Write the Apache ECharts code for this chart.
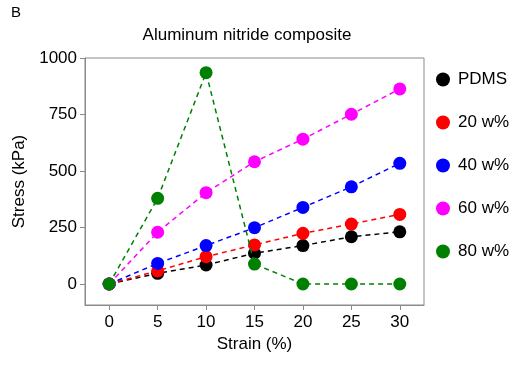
<!DOCTYPE html>
<html>
<head>
<meta charset="utf-8">
<script src="https://cdn.jsdelivr.net/npm/echarts@6/dist/echarts.min.js"></script>
<style>
  html, body { margin: 0; padding: 0; background: #fff; }
  #chart { width: 513px; height: 365px; }
</style>
</head>
<body>
<div id="chart"></div>
<script>
// Strain (%) sample points
const strain = [0, 5, 10, 15, 20, 25, 30];

// Stress (kPa) for each composite loading
const pdms = [0, 47, 84, 136, 170, 209, 231];
const w20 = [0, 58, 121, 173, 224, 265, 308];
const w40 = [0, 91, 170, 249, 339, 430, 534];
const w60 = [0, 229, 404, 541, 641, 751, 863];
const w80 = [0, 379, 935, 88, 0, 0, 0];

const seriesNames = ['PDMS', '20 w%', '40 w%', '60 w%', '80 w%'];
const seriesColors = ['#000000', '#ff0000', '#0000ff', '#ff00ff', '#008000'];
const seriesValues = [pdms, w20, w40, w60, w80];

const xTicks = [0, 5, 10, 15, 20, 25, 30];
const yTicks = [0, 250, 500, 750, 1000];

const font = 'Liberation Sans, Arial, sans-serif';
const axisGray = '#8a8a8a';
const fs = 17;

const chart = echarts.init(document.getElementById('chart'), null, { renderer: 'canvas' });

const series = seriesValues.map((vals, i) => ({
  name: seriesNames[i],
  type: 'line',
  data: strain.map((s, j) => [s, vals[j]]),
  symbol: 'circle',
  symbolSize: 13,
  z: 2 + i,
  itemStyle: { color: seriesColors[i] },
  lineStyle: { color: seriesColors[i], width: 1.5, type: [5, 4] },
  emphasis: { disabled: true },
  animation: false
}));

// one legend block per entry so the rows sit on an even pitch
const legendRowsTop = 71;
const legendPitch = 43;
const legends = seriesNames.map((name, i) => ({
  orient: 'vertical',
  left: 436,
  top: legendRowsTop + i * legendPitch,
  padding: 0,
  itemWidth: 14,
  itemHeight: 14,
  itemGap: 0,
  icon: 'circle',
  selectedMode: false,
  textStyle: { fontFamily: font, fontSize: fs, color: '#000', padding: [0, 0, 0, 3] },
  data: [name]
}));

chart.setOption({
  animation: false,
  backgroundColor: '#fff',
  graphic: [{
    type: 'text',
    left: 11,
    top: 5,
    style: { text: 'B', font: '15px ' + font, fill: '#000' }
  }],
  title: {
    text: 'Aluminum nitride composite',
    left: 247,
    textAlign: 'center',
    top: 27,
    padding: 0,
    textStyle: { fontFamily: font, fontSize: fs, fontWeight: 'normal', color: '#000' }
  },
  legend: legends,
  grid: {
    left: 85, top: 58, right: 89, bottom: 60,
    show: true, borderColor: axisGray, borderWidth: 1,
    containLabel: false
  },
  xAxis: {
    type: 'value',
    min: -2.5, max: 32.5,
    name: 'Strain (%)',
    nameLocation: 'middle',
    nameGap: 30,
    nameTextStyle: { fontFamily: font, fontSize: fs, color: '#000' },
    axisLine: { show: true, onZero: false, lineStyle: { color: axisGray, width: 1 } },
    axisTick: { show: true, length: 5, lineStyle: { color: axisGray }, customValues: xTicks },
    axisLabel: { fontFamily: font, fontSize: fs, color: '#000', margin: 9, customValues: xTicks },
    splitLine: { show: false }
  },
  yAxis: {
    type: 'value',
    min: -93, max: 1000,
    name: 'Stress (kPa)',
    nameLocation: 'middle',
    nameGap: 36,
    nameTextStyle: { fontFamily: font, fontSize: fs, color: '#000' },
    axisLine: { show: true, onZero: false, lineStyle: { color: axisGray, width: 1 } },
    axisTick: { show: true, length: 5, lineStyle: { color: axisGray }, customValues: yTicks },
    axisLabel: {
      fontFamily: font, fontSize: fs, color: '#000', margin: 8, customValues: yTicks,
      formatter: v => String(v)
    },
    splitLine: { show: false }
  },
  series: series
});
</script>
</body>
</html>
